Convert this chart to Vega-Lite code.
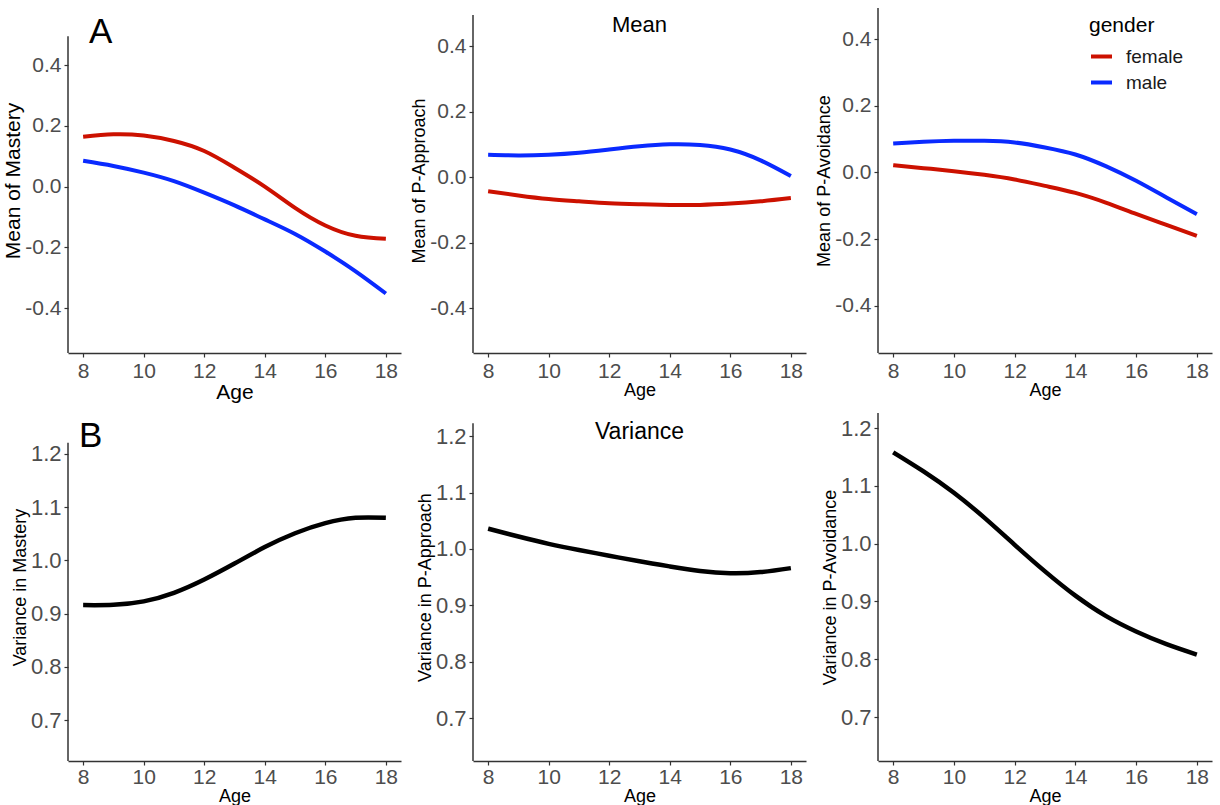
{
  "$schema": "https://vega.github.io/schema/vega-lite/v6.json",
  "background": "white",
  "padding": {"left": 2, "top": 7, "right": 6, "bottom": 0},
  "config": {
    "font": "Liberation Sans",
    "view": {"stroke": null},
    "axis": {"grid": false, "domainColor": "#333333", "domainWidth": 1.5, "tickColor": "#333333", "tickWidth": 1.2, "tickSize": 4, "labelColor": "#4d4d4d", "labelPadding": 3, "labelFontSize": 21, "titleColor": "black", "titleFontWeight": "normal", "titleFontSize": 18, "titlePadding": 0},
    "axisY": {"titlePadding": 1},
    "title": {"fontWeight": "normal", "color": "black", "offset": 0, "baseline": "top"},
    "line": {"strokeWidth": 4, "interpolate": "natural"}
  },
  "datasets": {
    "means": [
      {"measure": "Mastery", "gender": "female", "age": 8, "value": 0.164},
      {"measure": "Mastery", "gender": "female", "age": 9, "value": 0.172},
      {"measure": "Mastery", "gender": "female", "age": 10, "value": 0.168},
      {"measure": "Mastery", "gender": "female", "age": 11, "value": 0.150},
      {"measure": "Mastery", "gender": "female", "age": 12, "value": 0.117},
      {"measure": "Mastery", "gender": "female", "age": 13, "value": 0.062},
      {"measure": "Mastery", "gender": "female", "age": 14, "value": 0.000},
      {"measure": "Mastery", "gender": "female", "age": 15, "value": -0.070},
      {"measure": "Mastery", "gender": "female", "age": 16, "value": -0.128},
      {"measure": "Mastery", "gender": "female", "age": 17, "value": -0.162},
      {"measure": "Mastery", "gender": "female", "age": 18, "value": -0.172},
      {"measure": "Mastery", "gender": "male", "age": 8, "value": 0.085},
      {"measure": "Mastery", "gender": "male", "age": 9, "value": 0.068},
      {"measure": "Mastery", "gender": "male", "age": 10, "value": 0.046},
      {"measure": "Mastery", "gender": "male", "age": 11, "value": 0.018},
      {"measure": "Mastery", "gender": "male", "age": 12, "value": -0.020},
      {"measure": "Mastery", "gender": "male", "age": 13, "value": -0.062},
      {"measure": "Mastery", "gender": "male", "age": 14, "value": -0.108},
      {"measure": "Mastery", "gender": "male", "age": 15, "value": -0.156},
      {"measure": "Mastery", "gender": "male", "age": 16, "value": -0.214},
      {"measure": "Mastery", "gender": "male", "age": 17, "value": -0.279},
      {"measure": "Mastery", "gender": "male", "age": 18, "value": -0.352},
      {"measure": "P-Approach", "gender": "female", "age": 8, "value": -0.043},
      {"measure": "P-Approach", "gender": "female", "age": 9, "value": -0.056},
      {"measure": "P-Approach", "gender": "female", "age": 10, "value": -0.067},
      {"measure": "P-Approach", "gender": "female", "age": 11, "value": -0.074},
      {"measure": "P-Approach", "gender": "female", "age": 12, "value": -0.080},
      {"measure": "P-Approach", "gender": "female", "age": 13, "value": -0.083},
      {"measure": "P-Approach", "gender": "female", "age": 14, "value": -0.085},
      {"measure": "P-Approach", "gender": "female", "age": 15, "value": -0.085},
      {"measure": "P-Approach", "gender": "female", "age": 16, "value": -0.081},
      {"measure": "P-Approach", "gender": "female", "age": 17, "value": -0.074},
      {"measure": "P-Approach", "gender": "female", "age": 18, "value": -0.064},
      {"measure": "P-Approach", "gender": "male", "age": 8, "value": 0.068},
      {"measure": "P-Approach", "gender": "male", "age": 9, "value": 0.066},
      {"measure": "P-Approach", "gender": "male", "age": 10, "value": 0.068},
      {"measure": "P-Approach", "gender": "male", "age": 11, "value": 0.074},
      {"measure": "P-Approach", "gender": "male", "age": 12, "value": 0.084},
      {"measure": "P-Approach", "gender": "male", "age": 13, "value": 0.094},
      {"measure": "P-Approach", "gender": "male", "age": 14, "value": 0.100},
      {"measure": "P-Approach", "gender": "male", "age": 15, "value": 0.098},
      {"measure": "P-Approach", "gender": "male", "age": 16, "value": 0.084},
      {"measure": "P-Approach", "gender": "male", "age": 17, "value": 0.051},
      {"measure": "P-Approach", "gender": "male", "age": 18, "value": 0.003},
      {"measure": "P-Avoidance", "gender": "female", "age": 8, "value": 0.022},
      {"measure": "P-Avoidance", "gender": "female", "age": 9, "value": 0.013},
      {"measure": "P-Avoidance", "gender": "female", "age": 10, "value": 0.004},
      {"measure": "P-Avoidance", "gender": "female", "age": 11, "value": -0.007},
      {"measure": "P-Avoidance", "gender": "female", "age": 12, "value": -0.021},
      {"measure": "P-Avoidance", "gender": "female", "age": 13, "value": -0.040},
      {"measure": "P-Avoidance", "gender": "female", "age": 14, "value": -0.061},
      {"measure": "P-Avoidance", "gender": "female", "age": 15, "value": -0.090},
      {"measure": "P-Avoidance", "gender": "female", "age": 16, "value": -0.124},
      {"measure": "P-Avoidance", "gender": "female", "age": 17, "value": -0.157},
      {"measure": "P-Avoidance", "gender": "female", "age": 18, "value": -0.190},
      {"measure": "P-Avoidance", "gender": "male", "age": 8, "value": 0.087},
      {"measure": "P-Avoidance", "gender": "male", "age": 9, "value": 0.092},
      {"measure": "P-Avoidance", "gender": "male", "age": 10, "value": 0.095},
      {"measure": "P-Avoidance", "gender": "male", "age": 11, "value": 0.095},
      {"measure": "P-Avoidance", "gender": "male", "age": 12, "value": 0.090},
      {"measure": "P-Avoidance", "gender": "male", "age": 13, "value": 0.075},
      {"measure": "P-Avoidance", "gender": "male", "age": 14, "value": 0.054},
      {"measure": "P-Avoidance", "gender": "male", "age": 15, "value": 0.019},
      {"measure": "P-Avoidance", "gender": "male", "age": 16, "value": -0.025},
      {"measure": "P-Avoidance", "gender": "male", "age": 17, "value": -0.075},
      {"measure": "P-Avoidance", "gender": "male", "age": 18, "value": -0.125}
    ],
    "vars": [
      {"measure": "Mastery", "age": 8, "value": 0.916},
      {"measure": "Mastery", "age": 9, "value": 0.9165},
      {"measure": "Mastery", "age": 10, "value": 0.923},
      {"measure": "Mastery", "age": 11, "value": 0.939},
      {"measure": "Mastery", "age": 12, "value": 0.964},
      {"measure": "Mastery", "age": 13, "value": 0.994},
      {"measure": "Mastery", "age": 14, "value": 1.025},
      {"measure": "Mastery", "age": 15, "value": 1.051},
      {"measure": "Mastery", "age": 16, "value": 1.070},
      {"measure": "Mastery", "age": 17, "value": 1.080},
      {"measure": "Mastery", "age": 18, "value": 1.080},
      {"measure": "P-Approach", "age": 8, "value": 1.036},
      {"measure": "P-Approach", "age": 9, "value": 1.022},
      {"measure": "P-Approach", "age": 10, "value": 1.009},
      {"measure": "P-Approach", "age": 11, "value": 0.998},
      {"measure": "P-Approach", "age": 12, "value": 0.988},
      {"measure": "P-Approach", "age": 13, "value": 0.978},
      {"measure": "P-Approach", "age": 14, "value": 0.969},
      {"measure": "P-Approach", "age": 15, "value": 0.961},
      {"measure": "P-Approach", "age": 16, "value": 0.957},
      {"measure": "P-Approach", "age": 17, "value": 0.959},
      {"measure": "P-Approach", "age": 18, "value": 0.966},
      {"measure": "P-Avoidance", "age": 8, "value": 1.158},
      {"measure": "P-Avoidance", "age": 9, "value": 1.125},
      {"measure": "P-Avoidance", "age": 10, "value": 1.088},
      {"measure": "P-Avoidance", "age": 11, "value": 1.045},
      {"measure": "P-Avoidance", "age": 12, "value": 0.998},
      {"measure": "P-Avoidance", "age": 13, "value": 0.952},
      {"measure": "P-Avoidance", "age": 14, "value": 0.910},
      {"measure": "P-Avoidance", "age": 15, "value": 0.875},
      {"measure": "P-Avoidance", "age": 16, "value": 0.848},
      {"measure": "P-Avoidance", "age": 17, "value": 0.826},
      {"measure": "P-Avoidance", "age": 18, "value": 0.808}
    ]
  },
  "columns": 3,
  "bounds": "flush",
  "spacing": {"row": 60, "column": 72},
  "resolve": {"scale": {"color": "independent"}, "legend": {"color": "independent"}},
  "concat": [
    {
      "width": 333, "height": 345,
      "title": {"text": "A", "anchor": "start", "frame": "group", "fontSize": 35, "dx": 21, "dy": 46},
      "layer": [
        {"data": {"values": [{}]}, "mark": {"type": "rule", "color": "#333333", "strokeWidth": 1.5}, "encoding": {"x": {"datum": 7.5}, "y": {"datum": -0.548}, "y2": {"datum": 0.495}}},
        {
          "data": {"name": "means"},
          "transform": [{"filter": "datum.measure === 'Mastery'"}],
          "mark": "line",
          "encoding": {
            "x": {"field": "age", "type": "quantitative", "scale": {"domain": [7.5, 18.5], "nice": false, "zero": false}, "axis": {"values": [8, 10, 12, 14, 16, 18], "title": "Age", "titleFontSize": 21}},
            "y": {"field": "value", "type": "quantitative", "scale": {"domain": [-0.548, 0.588], "nice": false, "zero": false}, "axis": {"values": [-0.4, -0.2, 0, 0.2, 0.4], "labelExpr": "(datum.value < 0 ? '-' : '') + format(abs(datum.value), '.1f')", "domain": false, "title": "Mean of Mastery", "titleFontSize": 21}},
            "color": {"field": "gender", "type": "nominal", "scale": {"domain": ["female", "male"], "range": ["#CC1100", "#0A2AFF"]}, "legend": null}
          }
        }
      ]
    },
    {
      "width": 333, "height": 345,
      "title": {"text": "Mean", "anchor": "middle", "frame": "group", "fontSize": 22, "dy": 33},
      "layer": [
        {"data": {"values": [{}]}, "mark": {"type": "rule", "color": "#333333", "strokeWidth": 1.5}, "encoding": {"x": {"datum": 7.5}, "y": {"datum": -0.537}, "y2": {"datum": 0.495}}},
        {
          "data": {"name": "means"},
          "transform": [{"filter": "datum.measure === 'P-Approach'"}],
          "mark": "line",
          "encoding": {
            "x": {"field": "age", "type": "quantitative", "scale": {"domain": [7.5, 18.5], "nice": false, "zero": false}, "axis": {"values": [8, 10, 12, 14, 16, 18], "title": "Age"}},
            "y": {"field": "value", "type": "quantitative", "scale": {"domain": [-0.537, 0.516], "nice": false, "zero": false}, "axis": {"values": [-0.4, -0.2, 0, 0.2, 0.4], "labelExpr": "(datum.value < 0 ? '-' : '') + format(abs(datum.value), '.1f')", "domain": false, "title": "Mean of P-Approach"}},
            "color": {"field": "gender", "type": "nominal", "scale": {"domain": ["female", "male"], "range": ["#CC1100", "#0A2AFF"]}, "legend": null}
          }
        }
      ]
    },
    {
      "width": 334, "height": 345,
      "layer": [
        {"data": {"values": [{}]}, "mark": {"type": "rule", "color": "#333333", "strokeWidth": 1.5}, "encoding": {"x": {"datum": 7.5}, "y": {"datum": -0.541}, "y2": {"datum": 0.493}}},
        {
          "data": {"name": "means"},
          "transform": [{"filter": "datum.measure === 'P-Avoidance'"}],
          "mark": "line",
          "encoding": {
            "x": {"field": "age", "type": "quantitative", "scale": {"domain": [7.5, 18.5], "nice": false, "zero": false}, "axis": {"values": [8, 10, 12, 14, 16, 18], "title": "Age"}},
            "y": {"field": "value", "type": "quantitative", "scale": {"domain": [-0.541, 0.493], "nice": false, "zero": false}, "axis": {"values": [-0.4, -0.2, 0, 0.2, 0.4], "labelExpr": "(datum.value < 0 ? '-' : '') + format(abs(datum.value), '.1f')", "domain": false, "title": "Mean of P-Avoidance"}},
            "color": {"field": "gender", "type": "nominal", "scale": {"domain": ["female", "male"], "range": ["#CC1100", "#0A2AFF"]}, "legend": {"orient": "none", "legendX": 211, "legendY": 7, "title": "gender", "titleFontSize": 21, "titleFontWeight": "normal", "titleColor": "black", "titlePadding": 8, "labelFontSize": 19, "labelColor": "#1a1a1a", "labelOffset": 12, "symbolType": "stroke", "symbolStrokeWidth": 4, "symbolSize": 441, "rowPadding": 3, "padding": 0}}
          }
        }
      ]
    },
    {
      "width": 333, "height": 348,
      "title": {"text": "B", "anchor": "start", "frame": "group", "fontSize": 35, "dx": 11, "dy": 45},
      "layer": [
        {"data": {"values": [{}]}, "mark": {"type": "rule", "color": "#333333", "strokeWidth": 1.5}, "encoding": {"x": {"datum": 7.5}, "y": {"datum": 0.623}, "y2": {"datum": 1.221}}},
        {
          "data": {"name": "vars"},
          "transform": [{"filter": "datum.measure === 'Mastery'"}],
          "mark": {"type": "line", "color": "black", "strokeWidth": 4.5},
          "encoding": {
            "x": {"field": "age", "type": "quantitative", "scale": {"domain": [7.5, 18.5], "nice": false, "zero": false}, "axis": {"values": [8, 10, 12, 14, 16, 18], "title": "Age", "labelPadding": 1}},
            "y": {"field": "value", "type": "quantitative", "scale": {"domain": [0.623, 1.277], "nice": false, "zero": false}, "axis": {"values": [0.7, 0.8, 0.9, 1.0, 1.1, 1.2], "format": ".1f", "labelFontSize": 22, "domain": false, "title": "Variance in Mastery"}}
          }
        }
      ]
    },
    {
      "width": 333, "height": 348,
      "title": {"text": "Variance", "anchor": "middle", "frame": "group", "fontSize": 23, "dy": 35},
      "layer": [
        {"data": {"values": [{}]}, "mark": {"type": "rule", "color": "#333333", "strokeWidth": 1.5}, "encoding": {"x": {"datum": 7.5}, "y": {"datum": 0.624}, "y2": {"datum": 1.223}}},
        {
          "data": {"name": "vars"},
          "transform": [{"filter": "datum.measure === 'P-Approach'"}],
          "mark": {"type": "line", "color": "black", "strokeWidth": 4.5},
          "encoding": {
            "x": {"field": "age", "type": "quantitative", "scale": {"domain": [7.5, 18.5], "nice": false, "zero": false}, "axis": {"values": [8, 10, 12, 14, 16, 18], "title": "Age", "labelPadding": 1}},
            "y": {"field": "value", "type": "quantitative", "scale": {"domain": [0.624, 1.241], "nice": false, "zero": false}, "axis": {"values": [0.7, 0.8, 0.9, 1.0, 1.1, 1.2], "format": ".1f", "labelFontSize": 22, "domain": false, "title": "Variance in P-Approach"}}
          }
        }
      ]
    },
    {
      "width": 334, "height": 348,
      "layer": [
        {"data": {"values": [{}]}, "mark": {"type": "rule", "color": "#333333", "strokeWidth": 1.5}, "encoding": {"x": {"datum": 7.5}, "y": {"datum": 0.624}, "y2": {"datum": 1.226}}},
        {
          "data": {"name": "vars"},
          "transform": [{"filter": "datum.measure === 'P-Avoidance'"}],
          "mark": {"type": "line", "color": "black", "strokeWidth": 4.5},
          "encoding": {
            "x": {"field": "age", "type": "quantitative", "scale": {"domain": [7.5, 18.5], "nice": false, "zero": false}, "axis": {"values": [8, 10, 12, 14, 16, 18], "title": "Age", "labelPadding": 1}},
            "y": {"field": "value", "type": "quantitative", "scale": {"domain": [0.624, 1.226], "nice": false, "zero": false}, "axis": {"values": [0.7, 0.8, 0.9, 1.0, 1.1, 1.2], "format": ".1f", "labelFontSize": 22, "domain": false, "title": "Variance in P-Avoidance"}}
          }
        }
      ]
    }
  ]
}
